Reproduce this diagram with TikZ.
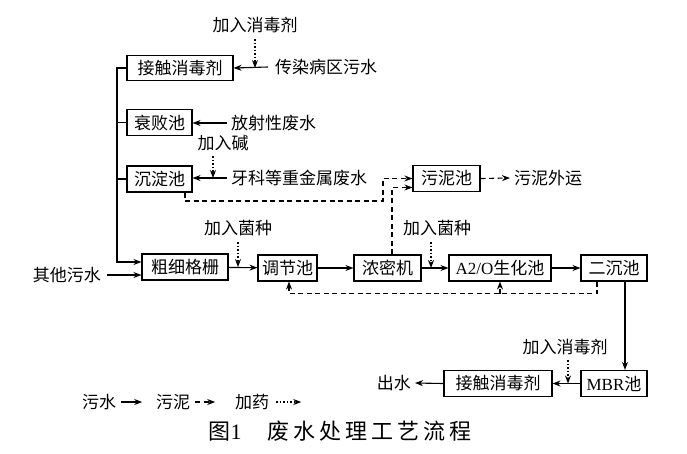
\documentclass[tikz,border=0pt]{standalone}
\usepackage{fontspec}
\setmainfont{Liberation Serif}
\newfontfamily\cjk{Noto Sans CJK SC}
\usetikzlibrary{arrows.meta}

\tikzset{
	box/.style={draw, line width=1.1pt, minimum height=26pt, inner sep=0pt},
	lbl/.style={inner sep=1pt},
	flow/.style={-{Stealth[length=8pt,width=6pt]}, line width=1.1pt},
	sludge/.style={flow, dash pattern=on 5pt off 3.5pt},
	dose/.style={flow, line width=1.1pt, dash pattern=on 1.5pt off 2pt},
}

\begin{document}
\begin{tikzpicture}[x=1pt,y=-1pt,font=\cjk\fontsize{17pt}{20pt}\selectfont]
	\useasboundingbox (0,0) rectangle (687,453);
	
	
	
	% process units
	\node[box, minimum width=106pt, minimum height=25pt] (jc1) at (180,68) {接触消毒剂};
	\node[box, minimum width=65pt] (sb) at (159.5,122.5) {衰败池};
	\node[box, minimum width=65pt] (cd) at (159.5,179) {沉淀池};
	\node[box, minimum width=86pt] (gs) at (185,267) {粗细格栅};
	\node[box, minimum width=59pt] (tj) at (287.5,268) {调节池};
	\node[box, minimum width=67pt] (nm) at (387.5,268) {浓密机};
	\node[box, minimum width=102pt] (a2o) at (500,268) {{\rmfamily A2/O}生化池};
	\node[box, minimum width=66pt] (ec) at (614,268) {二沉池};
	\node[box, minimum width=67pt] (wn) at (446.5,178.5) {污泥池};
	\node[box, minimum width=66pt] (mbr) at (614,383.5) {{\rmfamily MBR}池};
	\node[box, minimum width=108pt] (jc2) at (498,383.5) {接触消毒剂};
	
	
	
	% inflows and dosing
	\node[lbl] (t1) at (255,25) {加入消毒剂};
	\node[lbl, anchor=west] (crb) at (274,67) {传染病区污水};
	\node[lbl, anchor=west] (fs) at (230,123) {放射性废水};
	\node[lbl] (jj) at (223,143) {加入碱};
	\node[lbl, anchor=west] (yk) at (230,178) {牙科等重金属废水};
	\node[lbl] (jz1) at (238,228) {加入菌种};
	\node[lbl] (jz2) at (437,228) {加入菌种};
	\node[lbl, anchor=west] (wy) at (513,178) {污泥外运};
	\node[lbl, anchor=east] (qt) at (102,275) {其他污水};
	\node[lbl] (t2) at (565,347) {加入消毒剂};
	\node[lbl, anchor=east] (cs) at (412,383) {出水};
	
	\draw[flow] ([xshift=-6pt]crb.west) -- (jc1.east);
	\draw[dose] ([yshift=-5pt]t1.south) -- (t1.south |- jc1.east);
	\draw[flow] ([xshift=-3pt]fs.west) -- (sb.east |- fs.west);
	\draw[flow] ([xshift=-3pt]yk.west) -- (cd.east |- yk.west);
	\draw[dose] ([xshift=-10pt,yshift=-4pt]jj.south) -- ([xshift=-10pt]jj.south |- yk.west);
	
	
	
	% collecting line to the screen
	\coordinate (bus) at (117,262);
	\draw[flow] (jc1.west) -| (bus) -- (bus -| gs.west);
	\draw[line width=1.1pt] (sb.west) -- (sb.west -| bus);
	\draw[line width=1.1pt] (cd.west) -- (cd.west -| bus);
	\draw[flow] ([xshift=5pt]qt.east) -- (qt.east -| gs.west);
	
	
	
	% main line
	\draw[flow] (gs) -- (tj);
	\draw[flow] (tj) -- (nm);
	\draw[flow] (nm) -- (a2o);
	\draw[flow] (a2o) -- (ec);
	\draw[dose] ([yshift=-5pt]jz1.south) -- (jz1.south |- gs.east);
	\draw[dose] ([xshift=-6pt,yshift=-5pt]jz2.south) -- ([xshift=-6pt]jz2.south |- nm.east);
	\draw[flow] ([xshift=11pt]ec.south) -- ([xshift=11pt]mbr.north);
	\draw[flow] (mbr) -- (jc2);
	\draw[flow] (jc2.west) -- ([xshift=3pt]cs.east);
	\draw[dose] ([xshift=3pt,yshift=-4pt]t2.south) -- ([xshift=3pt]t2.south |- mbr.west);
	
	
	
	% sludge
	\draw[sludge] ([xshift=25.5pt]cd.south) |- (383,201) |- (wn.west);
	\draw[sludge] ([xshift=4.5pt]nm.north) |- ([yshift=-9pt]wn.west);
	\draw[sludge] (wn.east) -- ([xshift=-3pt]wy.west);
	\draw[sludge] ([xshift=-17pt]ec.south) -- ++(0,12) coordinate (rt) -| ([xshift=1.5pt]tj.south);
	\draw[sludge] (a2o.south |- rt) -- (a2o.south);
	
	
	
	% legend
	\node[lbl] (lg1) at (99,402) {污水};
	\node[lbl] (lg2) at (173,402) {污泥};
	\node[lbl] (lg3) at (252,402) {加药};
	\draw[flow] ([xshift=4pt]lg1.east) -- ++(21,0);
	\draw[sludge] ([xshift=4pt]lg2.east) -- ++(20,0);
	\draw[dose] ([xshift=6pt]lg3.east) -- ++(25,0);
	
	% caption
	\node[lbl, font=\cjk\fontsize{22pt}{24pt}\selectfont] (cap) at (340,431)
	{图{\rmfamily 1}\hspace{26pt}废\hspace{4pt}水\hspace{4pt}处\hspace{4pt}理\hspace{4pt}工\hspace{4pt}艺\hspace{4pt}流\hspace{4pt}程};
	 
\end{tikzpicture}
\end{document}
